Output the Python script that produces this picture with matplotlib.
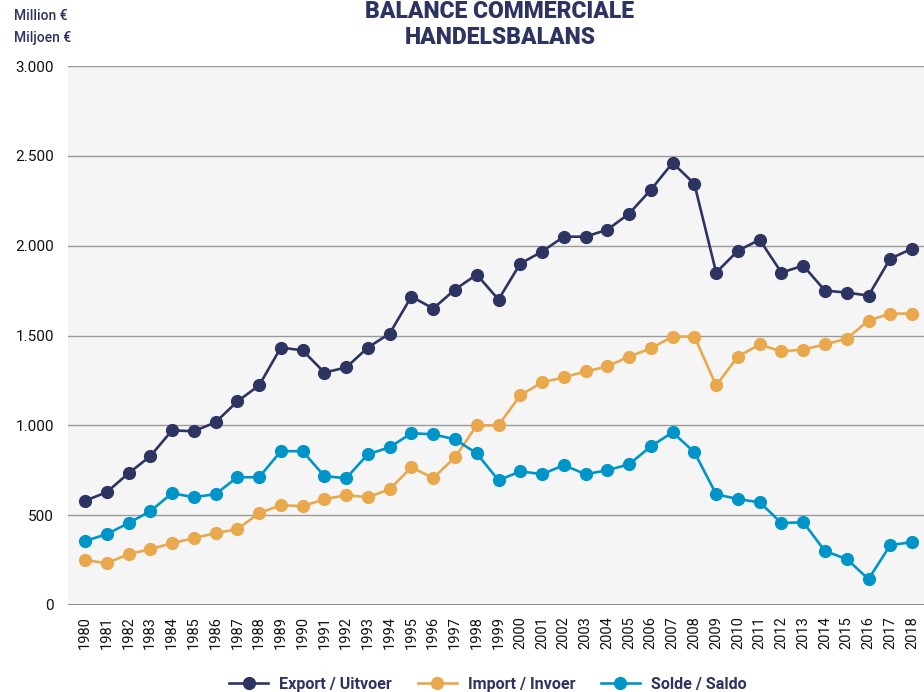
import matplotlib
matplotlib.use("Agg")
import matplotlib.pyplot as plt
from matplotlib.ticker import FuncFormatter

years = list(range(1980, 2019))
export = [580, 628, 733, 828, 972, 967, 1017, 1133, 1222, 1433, 1417, 1294, 1322, 1433,
          1511, 1717, 1650, 1756, 1839, 1700, 1900, 1967, 2050, 2050, 2089, 2178, 2311,
          2461, 2344, 1850, 1972, 2033, 1850, 1889, 1750, 1739, 1722, 1928, 1983]
import_ = [250, 233, 283, 311, 344, 372, 400, 422, 511, 556, 550, 589, 611, 600,
           644, 767, 706, 822, 1000, 1000, 1167, 1239, 1267, 1300, 1328, 1383, 1428,
           1494, 1494, 1222, 1383, 1450, 1411, 1422, 1450, 1483, 1583, 1622, 1622]
solde = [356, 394, 456, 522, 622, 600, 617, 711, 711, 856, 856, 717, 706, 839,
         878, 956, 950, 922, 844, 694, 744, 728, 778, 728, 750, 783, 883,
         961, 850, 617, 589, 572, 456, 461, 300, 256, 144, 333, 350]
labels = ["Export / Uitvoer", "Import / Invoer", "Solde / Saldo"]
colors = ["#2e3462", "#eaa84d", "#0095c8"]
navy = "#2e3462"

plt.rcParams['font.family'] = ['Roboto', 'DejaVu Sans']

fig = plt.figure(figsize=(9.24, 6.92), dpi=100)
ax = fig.add_axes([68/924, 1-605/692, (924-68)/924, (605-66)/692])
ax.set_facecolor("#f5f5f5")

for y in [500, 1000, 1500, 2000, 2500, 3000]:
    ax.axhline(y, color="#9a9a9a", lw=1.0, zorder=1)
ax.axhline(0, color="#8a8a8a", lw=1.4, zorder=1)

for series, lab, c in zip([export, import_, solde], labels, colors):
    ax.plot(years, series, color=c, lw=1.9, marker="o", ms=8.5, label=lab, zorder=3,
            clip_on=False)

ax.set_xlim(1979.22, 2018.55)
ax.set_ylim(0, 3000)
for s in ax.spines.values():
    s.set_visible(False)
ax.set_yticks([0, 500, 1000, 1500, 2000, 2500, 3000])
ax.yaxis.set_major_formatter(FuncFormatter(lambda v, p: f"{int(v):,}".replace(",", ".")))
ax.set_xticks(years)
ax.set_xticklabels([str(y) for y in years], rotation=90, fontsize=10.5, color="#111111")
ax.tick_params(axis="y", length=0, pad=10, labelsize=11, labelcolor="#111111")
ax.tick_params(axis="x", length=0, pad=8)

fig.text(500/924, 1-0/692, "BALANCE COMMERCIALE\nHANDELSBALANS", ha="center", va="top",
         fontsize=16.5, fontweight="black", color=navy, linespacing=1.15)
fig.text(14/924, 1-9/692, "Million €\nMiljoen €", ha="left", va="top",
         fontsize=10, fontweight="medium", color=navy, linespacing=1.75)

leg = fig.legend(loc="center", bbox_to_anchor=(488/924, 1-684/692), ncol=3, frameon=False,
                 handlelength=2.4, columnspacing=1.6, handletextpad=0.7,
                 prop={'weight': 'bold', 'size': 11.6})
for t in leg.get_texts():
    t.set_color(navy)

fig.savefig("out.png", dpi=100)
